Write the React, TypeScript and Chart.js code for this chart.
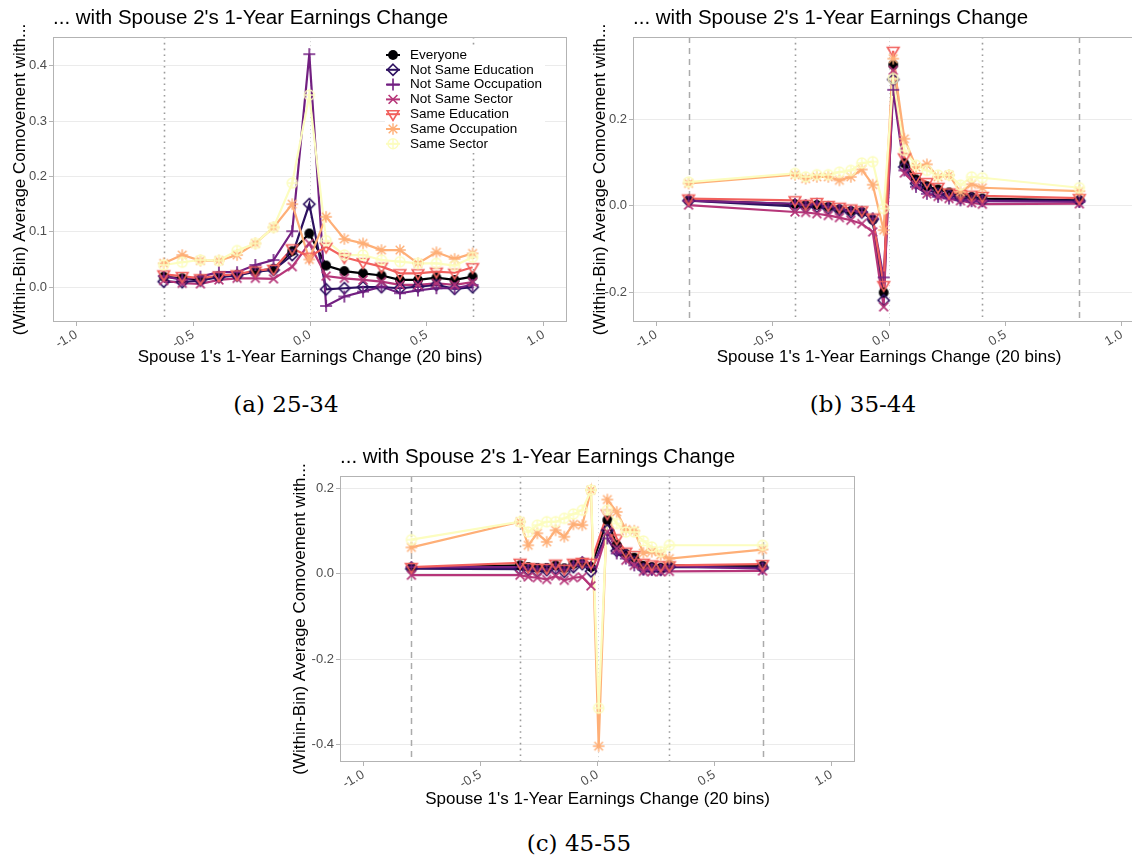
import React, { useEffect, useRef } from 'react';
import { Chart, registerables } from 'chart.js';

Chart.register(...registerables);

// ---------- shared ----------
const SERIES = ['Everyone', 'Not Same Education', 'Not Same Occupation', 'Not Same Sector', 'Same Education', 'Same Occupation', 'Same Sector'];
const COLORS = ['#000004', '#2D1160', '#721F81', '#B63679', '#F1605D', '#FEAF77', '#FCFDBF'];
const SHAPES = ['dot', 'diamond', 'plus', 'cross', 'triDown', 'asterisk', 'circlePlus'];
const X_TICKS = [-1, -0.5, 0, 0.5, 1];
const CENTER_LINE = [0];
const TITLE = "... with Spouse 2's 1-Year Earnings Change";
const X_TITLE = "Spouse 1's 1-Year Earnings Change (20 bins)";
const Y_TITLE = '(Within-Bin) Average Comovement with...';

// ---------- panel (a) 25-34 ----------
const A_X = [-0.626, -0.547, -0.469, -0.390, -0.312, -0.234, -0.156, -0.076, -0.003, 0.069, 0.147, 0.227, 0.306, 0.385, 0.462, 0.541, 0.619, 0.696];
const A_EVERYONE = [0.019, 0.016, 0.014, 0.019, 0.022, 0.029, 0.033, 0.065, 0.097, 0.039, 0.029, 0.025, 0.021, 0.013, 0.013, 0.017, 0.013, 0.019];
const A_NOT_EDU = [0.010, 0.009, 0.012, 0.018, 0.021, 0.028, 0.031, 0.058, 0.150, -0.004, -0.002, 0.000, 0.000, -0.002, 0.001, 0.004, -0.003, 0.000];
const A_NOT_OCC = [0.020, 0.013, 0.019, 0.027, 0.027, 0.040, 0.049, 0.101, 0.421, -0.034, -0.017, -0.008, 0.001, -0.011, -0.006, -0.002, -0.002, 0.004];
const A_NOT_SEC = [0.012, 0.007, 0.006, 0.013, 0.016, 0.016, 0.015, 0.037, 0.079, 0.020, 0.016, 0.013, 0.010, 0.004, 0.004, 0.007, 0.004, 0.009];
const A_SAME_EDU = [0.023, 0.020, 0.016, 0.021, 0.023, 0.030, 0.033, 0.070, 0.055, 0.073, 0.054, 0.045, 0.037, 0.025, 0.025, 0.028, 0.026, 0.036];
const A_SAME_OCC = [0.043, 0.058, 0.048, 0.048, 0.058, 0.079, 0.108, 0.150, 0.050, 0.127, 0.087, 0.079, 0.067, 0.067, 0.043, 0.063, 0.051, 0.061];
const A_SAME_SEC = [0.040, 0.045, 0.049, 0.048, 0.066, 0.079, 0.108, 0.188, 0.347, 0.084, 0.058, 0.058, 0.049, 0.046, 0.043, 0.043, 0.039, 0.054];
const A_Y_TICKS = [0, 0.1, 0.2, 0.3, 0.4];
const A_DOTTED = [-0.626, 0.696];
const A_DASHED: number[] = [];

// ---------- panel (b) 35-44 ----------
const B_X = [-0.861, -0.404, -0.358, -0.310, -0.261, -0.213, -0.164, -0.117, -0.070, -0.023, 0.018, 0.066, 0.116, 0.163, 0.211, 0.258, 0.307, 0.355, 0.401, 0.818];
const B_EVERYONE = [0.013, 0.004, 0.002, 0.002, -0.002, -0.008, -0.012, -0.014, -0.032, -0.200, 0.326, 0.098, 0.061, 0.045, 0.038, 0.031, 0.023, 0.021, 0.017, 0.013];
const B_NOT_EDU = [0.012, -0.001, -0.002, -0.002, -0.006, -0.010, -0.015, -0.015, -0.031, -0.218, 0.292, 0.090, 0.052, 0.038, 0.028, 0.025, 0.018, 0.017, 0.013, 0.012];
const B_NOT_OCC = [0.012, 0.005, 0.002, 0.005, -0.002, -0.008, -0.012, -0.014, -0.029, -0.165, 0.268, 0.082, 0.044, 0.028, 0.021, 0.017, 0.013, 0.011, 0.011, 0.009];
const B_NOT_SEC = [0.002, -0.014, -0.015, -0.018, -0.022, -0.027, -0.033, -0.041, -0.060, -0.233, 0.313, 0.076, 0.048, 0.028, 0.022, 0.017, 0.012, 0.007, 0.004, 0.005];
const B_SAME_EDU = [0.017, 0.013, 0.005, 0.009, 0.002, -0.002, -0.006, -0.010, -0.027, -0.183, 0.358, 0.112, 0.067, 0.055, 0.044, 0.031, 0.028, 0.026, 0.023, 0.018];
const B_SAME_OCC = [0.052, 0.072, 0.063, 0.067, 0.067, 0.059, 0.067, 0.084, 0.049, -0.056, 0.340, 0.155, 0.090, 0.096, 0.067, 0.071, 0.032, 0.050, 0.042, 0.034];
const B_SAME_SEC = [0.055, 0.075, 0.067, 0.072, 0.072, 0.078, 0.082, 0.099, 0.102, -0.006, 0.294, 0.128, 0.094, 0.082, 0.071, 0.071, 0.048, 0.067, 0.065, 0.042];
const B_Y_TICKS = [-0.2, 0, 0.2];
const B_DOTTED = [-0.404, 0.401];
const B_DASHED = [-0.861, 0.818];

// ---------- panel (c) 45-55 ----------
const C_X = [-0.795, -0.331, -0.296, -0.257, -0.217, -0.179, -0.142, -0.103, -0.065, -0.028, 0.005, 0.042, 0.082, 0.121, 0.157, 0.196, 0.232, 0.270, 0.307, 0.705];
const C_EVERYONE = [0.015, 0.020, 0.016, 0.014, 0.014, 0.020, 0.013, 0.023, 0.027, 0.016, null, 0.126, 0.067, 0.047, 0.038, 0.019, 0.016, 0.014, 0.020, 0.019];
const C_NOT_EDU = [0.012, 0.011, 0.009, 0.006, 0.009, 0.012, 0.005, 0.016, 0.023, 0.006, null, 0.102, 0.054, 0.044, 0.028, 0.012, 0.012, 0.010, 0.016, 0.015];
const C_NOT_OCC = [0.016, 0.016, 0.012, 0.011, 0.011, 0.016, 0.010, 0.020, 0.028, 0.016, null, 0.083, 0.048, 0.036, 0.020, 0.010, 0.009, 0.009, 0.018, 0.012];
const C_NOT_SEC = [-0.003, -0.003, -0.007, -0.009, -0.013, -0.005, -0.015, -0.009, -0.007, -0.028, null, 0.098, 0.059, 0.032, 0.020, 0.006, 0.005, 0.005, 0.006, 0.007];
const C_SAME_EDU = [0.016, 0.026, 0.016, 0.014, 0.014, 0.024, 0.012, 0.026, 0.028, 0.026, null, 0.141, 0.083, 0.052, 0.044, 0.026, 0.022, 0.020, 0.020, 0.023];
const C_SAME_OCC = [0.062, 0.122, 0.067, 0.095, 0.075, 0.102, 0.087, 0.116, 0.114, 0.196, -0.403, 0.174, 0.145, 0.104, 0.101, 0.049, 0.052, 0.044, 0.036, 0.057];
const C_SAME_SEC = [0.080, 0.122, 0.098, 0.114, 0.122, 0.122, 0.130, 0.140, 0.149, 0.196, -0.314, 0.149, 0.118, 0.098, 0.098, 0.077, 0.063, 0.052, 0.067, 0.067];
const C_Y_TICKS = [-0.4, -0.2, 0, 0.2];
const C_DOTTED = [-0.331, 0.307];
const C_DASHED = [-0.795, 0.705];

const FONT = '"Liberation Sans", Arial, Helvetica, sans-serif';

type Panel = {
  x: number[];
  ys: (number | null)[][];
  yMin: number;
  yMax: number;
  yTicks: number[];
  dotted: number[];
  dashed: number[];
  yAxisW: number;
  padRight: number;
  xTitlePad: number;
  legend: boolean;
};

const PANELS: Panel[] = [
  {
    x: A_X, ys: [A_EVERYONE, A_NOT_EDU, A_NOT_OCC, A_NOT_SEC, A_SAME_EDU, A_SAME_OCC, A_SAME_SEC],
    yMin: -0.063, yMax: 0.452, yTicks: A_Y_TICKS, dotted: A_DOTTED, dashed: A_DASHED,
    yAxisW: 53, padRight: 13, xTitlePad: 7, legend: true,
  },
  {
    x: B_X, ys: [B_EVERYONE, B_NOT_EDU, B_NOT_OCC, B_NOT_SEC, B_SAME_EDU, B_SAME_OCC, B_SAME_SEC],
    yMin: -0.268, yMax: 0.39, yTicks: B_Y_TICKS, dotted: B_DOTTED, dashed: B_DASHED,
    yAxisW: 53, padRight: 15, xTitlePad: 7, legend: false,
  },
  {
    x: C_X, ys: [C_EVERYONE, C_NOT_EDU, C_NOT_OCC, C_NOT_SEC, C_SAME_EDU, C_SAME_OCC, C_SAME_SEC],
    yMin: -0.44, yMax: 0.229, yTicks: C_Y_TICKS, dotted: C_DOTTED, dashed: C_DASHED,
    yAxisW: 60, padRight: 15, xTitlePad: 5, legend: false,
  },
];

const LAYOUT = [
  { left: 0, top: 0, width: 580, height: 375 },
  { left: 580, top: 0, width: 580, height: 375 },
  { left: 280, top: 439, width: 590, height: 376 },
];

const CAPTIONS = [
  { text: '(a) 25-34', cx: 286, cy: 404 },
  { text: '(b) 35-44', cx: 863, cy: 404 },
  { text: '(c) 45-55', cx: 579, cy: 843 },
];

function drawShape(ctx: CanvasRenderingContext2D, shape: string, color: string, cx: number, cy: number) {
  ctx.save();
  ctx.strokeStyle = color;
  ctx.fillStyle = color;
  ctx.lineWidth = 1.6;
  ctx.setLineDash([]);
  ctx.beginPath();
  switch (shape) {
    case 'dot':
      ctx.arc(cx, cy, 4.9, 0, Math.PI * 2);
      ctx.fill();
      break;
    case 'diamond':
      ctx.moveTo(cx, cy - 5.6);
      ctx.lineTo(cx + 5.6, cy);
      ctx.lineTo(cx, cy + 5.6);
      ctx.lineTo(cx - 5.6, cy);
      ctx.closePath();
      ctx.stroke();
      break;
    case 'plus':
      ctx.moveTo(cx - 6, cy);
      ctx.lineTo(cx + 6, cy);
      ctx.moveTo(cx, cy - 6);
      ctx.lineTo(cx, cy + 6);
      ctx.stroke();
      break;
    case 'cross':
      ctx.moveTo(cx - 4.4, cy - 4.4);
      ctx.lineTo(cx + 4.4, cy + 4.4);
      ctx.moveTo(cx + 4.4, cy - 4.4);
      ctx.lineTo(cx - 4.4, cy + 4.4);
      ctx.stroke();
      break;
    case 'triDown':
      ctx.moveTo(cx - 5.8, cy - 3.5);
      ctx.lineTo(cx + 5.8, cy - 3.5);
      ctx.lineTo(cx, cy + 6.2);
      ctx.closePath();
      ctx.stroke();
      break;
    case 'asterisk':
      ctx.lineWidth = 1.4;
      ctx.moveTo(cx - 5.8, cy);
      ctx.lineTo(cx + 5.8, cy);
      ctx.moveTo(cx, cy - 5.8);
      ctx.lineTo(cx, cy + 5.8);
      ctx.moveTo(cx - 4.3, cy - 4.3);
      ctx.lineTo(cx + 4.3, cy + 4.3);
      ctx.moveTo(cx + 4.3, cy - 4.3);
      ctx.lineTo(cx - 4.3, cy + 4.3);
      ctx.stroke();
      break;
    case 'circlePlus':
      ctx.lineWidth = 1.4;
      ctx.arc(cx, cy, 5, 0, Math.PI * 2);
      ctx.moveTo(cx - 5, cy);
      ctx.lineTo(cx + 5, cy);
      ctx.moveTo(cx, cy - 5);
      ctx.lineTo(cx, cy + 5);
      ctx.stroke();
      break;
  }
  ctx.restore();
}

function makeMarker(shape: string, color: string): HTMLCanvasElement {
  const c = document.createElement('canvas');
  c.width = 18;
  c.height = 18;
  const ctx = c.getContext('2d');
  if (ctx) drawShape(ctx, shape, color, 9, 9);
  return c;
}

function decorPlugin(p: Panel) {
  return {
    id: 'decor',
    beforeDatasetsDraw(chart: any) {
      const { ctx, chartArea: ca } = chart;
      const xs = chart.scales.x;
      ctx.save();
      ctx.beginPath();
      ctx.rect(ca.left, ca.top, ca.right - ca.left, ca.bottom - ca.top);
      ctx.clip();
      const vline = (v: number, color: string, dash: number[], w: number) => {
        const px = Math.round(xs.getPixelForValue(v)) + 0.5;
        ctx.strokeStyle = color;
        ctx.setLineDash(dash);
        ctx.lineWidth = w;
        ctx.beginPath();
        ctx.moveTo(px, ca.top);
        ctx.lineTo(px, ca.bottom);
        ctx.stroke();
      };
      CENTER_LINE.forEach((v) => vline(v, '#D6D6D6', [1.2, 2.8], 1));
      p.dotted.forEach((v) => vline(v, '#9C9C9C', [1.6, 4.2], 1.6));
      p.dashed.forEach((v) => vline(v, '#ABABAB', [6, 5], 1.5));
      ctx.restore();
    },
    afterDatasetsDraw(chart: any) {
      const { ctx, chartArea: ca } = chart;
      ctx.save();
      ctx.strokeStyle = '#B3B3B3';
      ctx.lineWidth = 1;
      ctx.setLineDash([]);
      ctx.strokeRect(Math.round(ca.left) + 0.5, Math.round(ca.top) + 0.5, Math.round(ca.right - ca.left) - 1, Math.round(ca.bottom - ca.top) - 1);
      if (p.legend) {
        const lx = ca.left + 332;
        const ly = ca.top + 9;
        ctx.fillStyle = '#FFFFFF';
        ctx.fillRect(lx, ly, 160, 107);
        const mx = lx + 8;
        ctx.font = '13.5px ' + FONT;
        ctx.textBaseline = 'middle';
        ctx.textAlign = 'left';
        SERIES.forEach((name, i) => {
          const yy = ly + 9 + i * 14.8;
          ctx.strokeStyle = COLORS[i];
          ctx.lineWidth = 2;
          ctx.beginPath();
          ctx.moveTo(mx - 7, yy);
          ctx.lineTo(mx + 7, yy);
          ctx.stroke();
          drawShape(ctx, SHAPES[i], COLORS[i], mx, yy);
          ctx.fillStyle = '#000000';
          ctx.fillText(name, lx + 25, yy);
        });
      }
      ctx.restore();
    },
  };
}

function buildChart(canvas: HTMLCanvasElement, p: Panel) {
  const markers = SHAPES.map((s, i) => makeMarker(s, COLORS[i]));
  const datasets: any[] = [];
  p.ys.forEach((ys, i) => {
    const data = p.x.map((x, j) => ({ x, y: ys[j] })).filter((d) => d.y !== null);
    datasets.push({
      label: SERIES[i],
      data,
      showLine: true,
      borderColor: COLORS[i],
      backgroundColor: COLORS[i],
      borderWidth: 2.2,
      pointRadius: 0,
      tension: 0,
      fill: false,
      order: 16 - i,
    });
  });
  p.ys.forEach((ys, i) => {
    const data = p.x.map((x, j) => ({ x, y: ys[j] })).filter((d) => d.y !== null);
    datasets.push({
      label: SERIES[i] + ' (points)',
      data,
      showLine: false,
      pointStyle: markers[i],
      pointRadius: 6,
      borderColor: COLORS[i],
      backgroundColor: COLORS[i],
      order: 6 - i,
    });
  });

  return new Chart(canvas, {
    type: 'scatter',
    data: { datasets },
    plugins: [decorPlugin(p)],
    options: {
      animation: false,
      responsive: false,
      events: [],
      layout: { autoPadding: false, padding: { left: 0, right: p.padRight, top: 0, bottom: 0 } },
      plugins: {
        legend: { display: false },
        tooltip: { enabled: false },
        title: {
          display: true,
          text: TITLE,
          align: 'start',
          fullSize: false,
          color: '#000000',
          font: { family: FONT, size: 20.5, weight: 'normal', lineHeight: 1.2 },
          padding: { top: 6, bottom: 6.4 },
        },
      },
      scales: {
        x: {
          type: 'linear',
          min: -1.1,
          max: 1.1,
          afterBuildTicks: (s: any) => { s.ticks = X_TICKS.map((v) => ({ value: v })); },
          afterFit: (s: any) => { s.height = 53; },
          ticks: {
            autoSkip: false,
            minRotation: 30,
            maxRotation: 30,
            padding: 1,
            color: '#4D4D4D',
            font: { family: FONT, size: 13 },
            callback: (v: any) => Number(v).toFixed(1),
          },
          grid: { display: true, drawOnChartArea: false, drawTicks: true, tickLength: 4, tickColor: '#B3B3B3', tickWidth: 1 },
          border: { display: false },
          title: {
            display: true,
            text: X_TITLE,
            color: '#000000',
            font: { family: FONT, size: 17, lineHeight: 1.2 },
            padding: { top: 0, bottom: p.xTitlePad },
          },
        },
        y: {
          type: 'linear',
          min: p.yMin,
          max: p.yMax,
          afterBuildTicks: (s: any) => { s.ticks = p.yTicks.map((v) => ({ value: v })); },
          afterFit: (s: any) => { s.width = p.yAxisW; },
          ticks: {
            padding: 2,
            color: '#4D4D4D',
            font: { family: FONT, size: 13 },
            callback: (v: any) => Number(v).toFixed(1),
          },
          grid: { color: '#EBEBEB', lineWidth: 1, drawTicks: true, tickLength: 4, tickColor: '#B3B3B3', tickWidth: 1 },
          border: { display: false },
          title: {
            display: true,
            text: Y_TITLE,
            color: '#000000',
            font: { family: FONT, size: 17, lineHeight: 1.2 },
            padding: { top: 10, bottom: 0 },
          },
        },
      },
    } as any,
  });
}

export default function App() {
  const refA = useRef<HTMLCanvasElement>(null);
  const refB = useRef<HTMLCanvasElement>(null);
  const refC = useRef<HTMLCanvasElement>(null);

  useEffect(() => {
    const refs = [refA, refB, refC];
    const charts = refs.map((r, i) => (r.current ? buildChart(r.current, PANELS[i]) : null));
    return () => {
      charts.forEach((c) => c && c.destroy());
    };
  }, []);

  const refs = [refA, refB, refC];
  return (
    <div style={{ position: 'fixed', left: 0, top: 0, width: 1132, height: 857, overflow: 'hidden', background: '#FFFFFF' }}>
      {LAYOUT.map((l, i) => (
        <canvas
          key={i}
          ref={refs[i]}
          width={l.width}
          height={l.height}
          style={{ position: 'absolute', left: l.left, top: l.top, width: l.width, height: l.height }}
        />
      ))}
      {CAPTIONS.map((c, i) => (
        <div
          key={'cap' + i}
          style={{
            position: 'absolute',
            left: c.cx - 100,
            top: c.cy - 15,
            width: 200,
            height: 30,
            lineHeight: '30px',
            textAlign: 'center',
            fontFamily: '"DejaVu Serif", "Liberation Serif", serif',
            fontSize: 23,
            color: '#000000',
            whiteSpace: 'pre',
          }}
        >
          {c.text}
        </div>
      ))}
    </div>
  );
}
